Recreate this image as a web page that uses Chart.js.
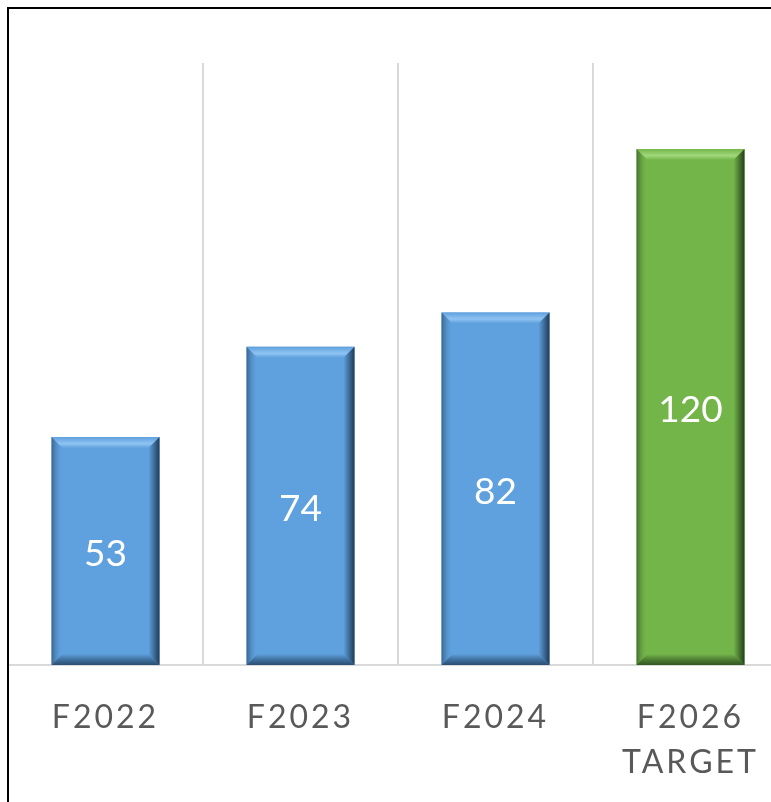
<!DOCTYPE html>
<html>
<head>
<meta charset="utf-8">
<script src="https://cdn.jsdelivr.net/npm/chart.js@4/dist/chart.umd.min.js"></script>
<style>
  html, body { margin: 0; padding: 0; background: #fff; width: 771px; height: 802px; overflow: hidden; }
  #wrap { position: absolute; left: 8px; top: 9px; width: 780px; height: 793px; }
  #frame { position: absolute; left: 7px; top: 7px; width: 800px; height: 820px;
           border-left: 2px solid #000; border-top: 2px solid #000; box-sizing: border-box; z-index: 5; pointer-events: none; }
</style>
</head>
<body>
<div id="wrap"><canvas id="c"></canvas></div>
<div id="frame"></div>
<script>
const categories = [["F2022"], ["F2023"], ["F2024"], ["F2026", "TARGET"]];
const values = [53, 74, 82, 120];
const barColors = ["#5FA0DE", "#5FA0DE", "#5FA0DE", "#74B54A"];
const lightColors = ["#8EC4F2", "#8EC4F2", "#8EC4F2", "#A0D87A"];
const darkColors = ["#1E3B57", "#1E3B57", "#1E3B57", "#23401A"];

const bevelPlugin = {
  id: 'bevel',
  beforeDraw(chart) { chart.ctx.letterSpacing = '3px'; },
  beforeDatasetsDraw(chart) { chart.ctx.letterSpacing = '0px'; },
  afterDatasetsDraw(chart) {
    const ctx = chart.ctx;
    const meta = chart.getDatasetMeta(0);
    meta.data.forEach((el, i) => {
      const x0 = el.x - el.width / 2, x1 = el.x + el.width / 2;
      const y0 = el.y, y1 = el.base;
      const b = 11;
      ctx.save();
      let g = ctx.createLinearGradient(0, y0, 0, y0 + b);
      g.addColorStop(0, barColors[i]);
      g.addColorStop(0.6, lightColors[i]);
      g.addColorStop(1, barColors[i]);
      ctx.fillStyle = g;
      ctx.beginPath();
      ctx.moveTo(x0, y0); ctx.lineTo(x1, y0); ctx.lineTo(x1 - b, y0 + b); ctx.lineTo(x0 + b, y0 + b); ctx.closePath(); ctx.fill();
      g = ctx.createLinearGradient(x0, 0, x0 + b, 0);
      g.addColorStop(0, darkColors[i] + '99');
      g.addColorStop(1, barColors[i] + '00');
      ctx.fillStyle = g;
      ctx.beginPath();
      ctx.moveTo(x0, y0); ctx.lineTo(x0 + b, y0 + b); ctx.lineTo(x0 + b, y1 - b); ctx.lineTo(x0, y1); ctx.closePath(); ctx.fill();
      g = ctx.createLinearGradient(x1 - b, 0, x1, 0);
      g.addColorStop(0, barColors[i]);
      g.addColorStop(1, darkColors[i]);
      ctx.fillStyle = g;
      ctx.beginPath();
      ctx.moveTo(x1, y0); ctx.lineTo(x1, y1); ctx.lineTo(x1 - b, y1 - b); ctx.lineTo(x1 - b, y0 + b); ctx.closePath(); ctx.fill();
      g = ctx.createLinearGradient(0, y1 - b, 0, y1);
      g.addColorStop(0, barColors[i]);
      g.addColorStop(1, darkColors[i] + 'CC');
      ctx.fillStyle = g;
      ctx.beginPath();
      ctx.moveTo(x0, y1); ctx.lineTo(x1, y1); ctx.lineTo(x1 - b, y1 - b); ctx.lineTo(x0 + b, y1 - b); ctx.closePath(); ctx.fill();
      ctx.fillStyle = '#FFFFFF';
      ctx.font = '37px Lato, "Open Sans", sans-serif';
      ctx.textAlign = 'center';
      ctx.textBaseline = 'middle';
      ctx.fillText(String(values[i]), el.x, (y0 + y1) / 2 + 3);
      ctx.restore();
    });
  }
};

new Chart(document.getElementById('c'), {
  type: 'bar',
  data: {
    labels: categories,
    datasets: [{
      data: values,
      backgroundColor: barColors,
      borderWidth: 0,
      barPercentage: 0.554,
      categoryPercentage: 1
    }]
  },
  options: {
    responsive: true,
    maintainAspectRatio: false,
    animation: false,
    events: [],
    layout: { padding: { top: 54, left: 0, right: 0, bottom: 0 } },
    plugins: { legend: { display: false }, tooltip: { enabled: false } },
    scales: {
      x: {
        grid: { display: true, offset: true, color: '#D9D9D9', lineWidth: 2, drawTicks: false },
        border: { display: true, color: '#D9D9D9', width: 2 },
        ticks: {
          color: '#595959',
          font: { family: 'Lato, "Open Sans", sans-serif', size: 32, lineHeight: 1.42 },
          padding: 30,
          maxRotation: 0,
          autoSkip: false
        },
        afterFit(scale) { scale.height = 137; }
      },
      y: {
        display: false,
        min: 0,
        max: 140
      }
    }
  },
  plugins: [bevelPlugin]
});
</script>
</body>
</html>
